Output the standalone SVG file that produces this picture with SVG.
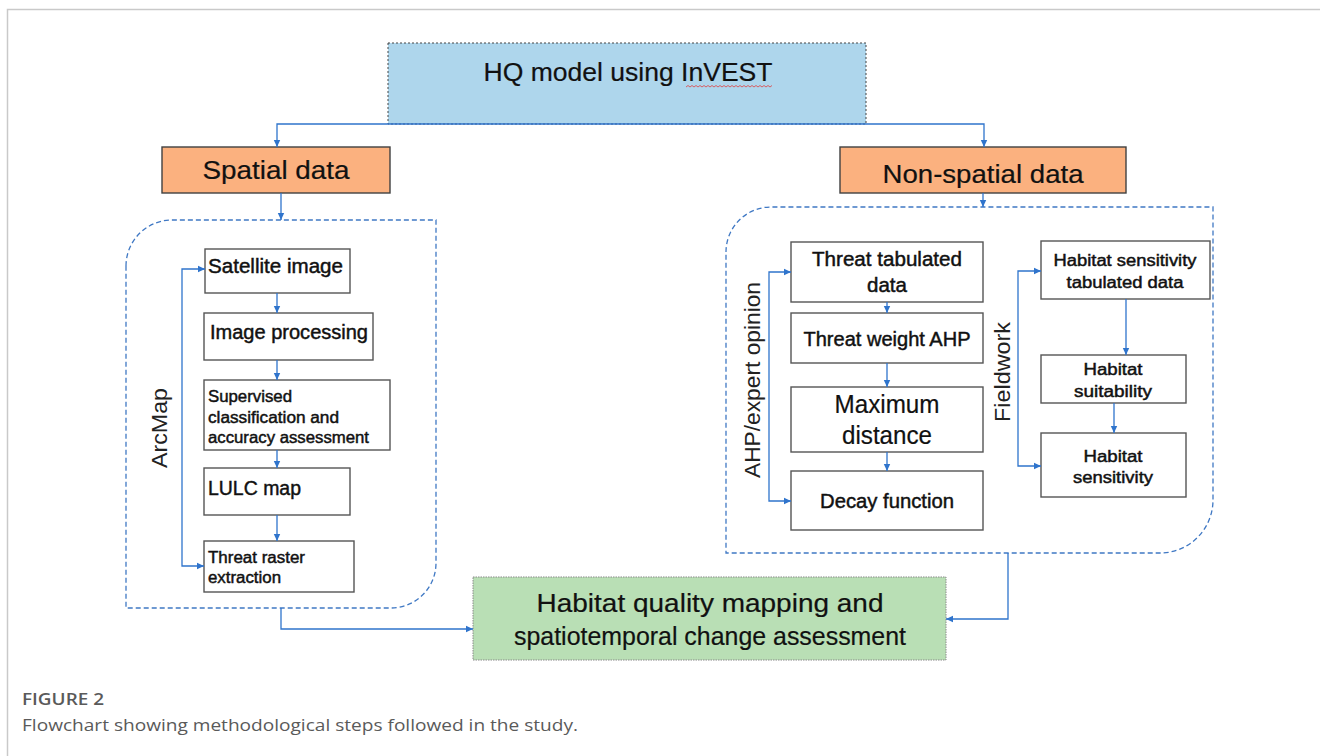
<svg xmlns="http://www.w3.org/2000/svg" width="1320" height="756" viewBox="0 0 1320 756">
<defs>
<marker id="ah" markerUnits="userSpaceOnUse" markerWidth="8" markerHeight="8" refX="7" refY="4" orient="auto-start-reverse">
<path d="M0,0.8 L7,4 L0,7.2 z" fill="#2f74cc"/>
</marker>
<style>
.frame{stroke:#c9c9c9;stroke-width:1.5;fill:none}
.box{fill:#fff;stroke:#555;stroke-width:1.4}
.orange{fill:#fbb17f;stroke:#404040;stroke-width:1.4}
.hq{fill:#aed6ec;stroke:#444;stroke-width:1;stroke-dasharray:2 2}
.green{fill:#b9dfb5;stroke:#8a8a8a;stroke-width:1;stroke-dasharray:1.5 1}
.region{fill:none;stroke:#3f78c4;stroke-width:1.3;stroke-dasharray:5 3}
.conn path{fill:none;stroke:#2f74cc;stroke-width:1.3}
.arr{marker-end:url(#ah)}
.both{marker-start:url(#ah);marker-end:url(#ah)}
text{font-family:"Liberation Sans",Arial,sans-serif;fill:#111}
.big{font-size:26px;stroke:#111;stroke-width:0.2}
.mid{font-size:20px;stroke:#111;stroke-width:0.45}
.sm{font-size:16px;stroke:#111;stroke-width:0.45}
.side{font-size:22px;fill:#222}
.cap{font-family:"Open Sans","Liberation Sans",sans-serif;fill:#5a5a5a}
</style>
</defs>
<rect width="1320" height="756" fill="#fff"/>
<path class="frame" d="M7.5 756 V9.5 H1320"/>

<g id="hq-model">
<rect class="hq" x="388" y="43" width="478" height="81"/>
<text class="big" x="628" y="81" text-anchor="middle" textLength="289" lengthAdjust="spacingAndGlyphs">HQ model using InVEST</text>
<path d="M686 87 l2 -1.5 l2 1.5 l2 -1.5 l2 1.5 l2 -1.5 l2 1.5 l2 -1.5 l2 1.5 l2 -1.5 l2 1.5 l2 -1.5 l2 1.5 l2 -1.5 l2 1.5 l2 -1.5 l2 1.5 l2 -1.5 l2 1.5 l2 -1.5 l2 1.5 l2 -1.5 l2 1.5 l2 -1.5 l2 1.5 l2 -1.5 l2 1.5 l2 -1.5 l2 1.5 l2 -1.5 l2 1.5 l2 -1.5 l2 1.5 l2 -1.5 l2 1.5 l2 -1.5 l2 1.5 l2 -1.5 l2 1.5 l2 -1.5 l2 1.5 l2 -1.5 l2 1.5 l2 -1.5" fill="none" stroke="#e04040" stroke-width="0.8"/>
</g>

<g id="spatial-data">
<rect class="orange" x="162" y="147" width="228" height="46"/>
<text class="big" x="276" y="179" text-anchor="middle" textLength="147" lengthAdjust="spacingAndGlyphs">Spatial data</text>
</g>

<g id="non-spatial-data">
<rect class="orange" x="840" y="147" width="286" height="46"/>
<text class="big" x="983" y="183" text-anchor="middle" textLength="201" lengthAdjust="spacingAndGlyphs">Non-spatial data</text>
</g>

<g id="arcmap-region">
<path class="region" d="M126 266 A46 46 0 0 1 172 220 H436 V563 A45 45 0 0 1 391 608 H126 Z"/>
<text class="side" transform="translate(167 428) rotate(-90)" text-anchor="middle" textLength="80" lengthAdjust="spacingAndGlyphs">ArcMap</text>
</g>

<g id="nonspatial-region">
<path class="region" d="M726 252 A45 45 0 0 1 771 207 H1213 V500 A53 53 0 0 1 1160 553 H726 Z"/>
<text class="side" transform="translate(760 380) rotate(-90)" text-anchor="middle" textLength="196" lengthAdjust="spacingAndGlyphs">AHP/expert opinion</text>
<text class="side" transform="translate(1010 372) rotate(-90)" text-anchor="middle" textLength="100" lengthAdjust="spacingAndGlyphs">Fieldwork</text>
</g>

<g id="satellite-image">
<rect class="box" x="205" y="249" width="145" height="44"/>
<text class="mid" x="208" y="273" textLength="135" lengthAdjust="spacingAndGlyphs">Satellite image</text>
</g>
<g id="image-processing">
<rect class="box" x="204" y="313" width="169" height="47"/>
<text class="mid" x="210" y="339" textLength="158" lengthAdjust="spacingAndGlyphs">Image processing</text>
</g>
<g id="supervised-classification">
<rect class="box" x="204" y="380" width="186" height="70"/>
<text class="sm" x="208" y="402" textLength="84" lengthAdjust="spacingAndGlyphs">Supervised</text>
<text class="sm" x="208" y="423" textLength="131" lengthAdjust="spacingAndGlyphs">classification and</text>
<text class="sm" x="208" y="443" textLength="161" lengthAdjust="spacingAndGlyphs">accuracy assessment</text>
</g>
<g id="lulc-map">
<rect class="box" x="204" y="468" width="146" height="47"/>
<text class="mid" x="208" y="495" textLength="93" lengthAdjust="spacingAndGlyphs">LULC map</text>
</g>
<g id="threat-raster">
<rect class="box" x="204" y="541" width="150" height="51"/>
<text class="sm" x="208" y="563" textLength="97" lengthAdjust="spacingAndGlyphs">Threat raster</text>
<text class="sm" x="208" y="583" textLength="73" lengthAdjust="spacingAndGlyphs">extraction</text>
</g>

<g id="threat-tabulated">
<rect class="box" x="791" y="242" width="192" height="60"/>
<text class="mid" x="887" y="266" text-anchor="middle" textLength="150" lengthAdjust="spacingAndGlyphs">Threat tabulated</text>
<text class="mid" x="887" y="292" text-anchor="middle" textLength="40" lengthAdjust="spacingAndGlyphs">data</text>
</g>
<g id="threat-weight">
<rect class="box" x="791" y="313" width="192" height="50"/>
<text class="mid" x="887" y="346" text-anchor="middle" textLength="167" lengthAdjust="spacingAndGlyphs">Threat weight AHP</text>
</g>
<g id="maximum-distance">
<rect class="box" x="791" y="387" width="192" height="65"/>
<text class="big" x="887" y="413" text-anchor="middle" textLength="105" lengthAdjust="spacingAndGlyphs">Maximum</text>
<text class="big" x="887" y="444" text-anchor="middle" textLength="90" lengthAdjust="spacingAndGlyphs">distance</text>
</g>
<g id="decay-function">
<rect class="box" x="791" y="471" width="192" height="59"/>
<text class="mid" x="887" y="508" text-anchor="middle" textLength="134" lengthAdjust="spacingAndGlyphs">Decay function</text>
</g>

<g id="habitat-sensitivity-tabulated">
<rect class="box" x="1041" y="241" width="169" height="58"/>
<text class="sm" x="1125" y="266" text-anchor="middle" textLength="143" lengthAdjust="spacingAndGlyphs">Habitat sensitivity</text>
<text class="sm" x="1125" y="288" text-anchor="middle" textLength="117" lengthAdjust="spacingAndGlyphs">tabulated data</text>
</g>
<g id="habitat-suitability">
<rect class="box" x="1041" y="355" width="145" height="48"/>
<text class="sm" x="1113" y="375" text-anchor="middle" textLength="59" lengthAdjust="spacingAndGlyphs">Habitat</text>
<text class="sm" x="1113" y="397" text-anchor="middle" textLength="78" lengthAdjust="spacingAndGlyphs">suitability</text>
</g>
<g id="habitat-sensitivity">
<rect class="box" x="1041" y="433" width="145" height="64"/>
<text class="sm" x="1113" y="462" text-anchor="middle" textLength="59" lengthAdjust="spacingAndGlyphs">Habitat</text>
<text class="sm" x="1113" y="483" text-anchor="middle" textLength="80" lengthAdjust="spacingAndGlyphs">sensitivity</text>
</g>

<g id="habitat-quality-mapping">
<rect class="green" x="473" y="577" width="473" height="83"/>
<text class="big" x="710" y="612" text-anchor="middle" textLength="347" lengthAdjust="spacingAndGlyphs">Habitat quality mapping and</text>
<text class="big" x="710" y="645" text-anchor="middle" textLength="392" lengthAdjust="spacingAndGlyphs">spatiotemporal change assessment</text>
</g>

<g id="connectors" class="conn">
<path class="arr" d="M627 124 H277 V147"/>
<path class="arr" d="M627 124 H984 V147"/>
<path class="arr" d="M281 193 V220"/>
<path class="arr" d="M983 193 V207"/>
<path class="arr" d="M277 293 V313"/>
<path class="arr" d="M277 360 V380"/>
<path class="arr" d="M277 450 V468"/>
<path class="arr" d="M277 515 V541"/>
<path class="both" d="M205 269 H182 V566 H204"/>
<path class="arr" d="M887 302 V313"/>
<path class="arr" d="M887 363 V387"/>
<path class="arr" d="M887 452 V471"/>
<path class="both" d="M791 272 H769 V501 H791"/>
<path class="both" d="M1041 271 H1018 V466 H1041"/>
<path class="arr" d="M1126 299 V355"/>
<path class="arr" d="M1114 403 V433"/>
<path class="arr" d="M281 608 V629 H473"/>
<path class="arr" d="M1008 553 V619 H946"/>
</g>

<g id="caption">
<text class="cap" x="22" y="705" font-size="17" font-weight="600" textLength="82" lengthAdjust="spacingAndGlyphs">FIGURE 2</text>
<text class="cap" x="22" y="731" font-size="16" fill="#666" textLength="556" lengthAdjust="spacingAndGlyphs">Flowchart showing methodological steps followed in the study.</text>
</g>
</svg>
